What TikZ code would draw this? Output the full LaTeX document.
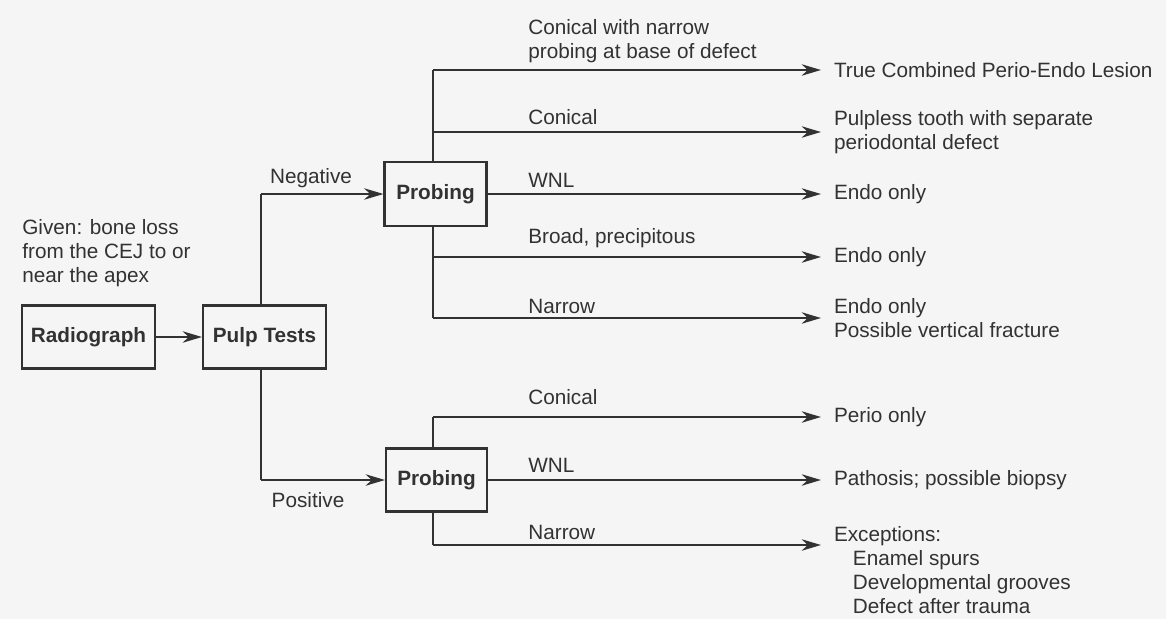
\documentclass[tikz,border=0pt]{standalone}
\usepackage{fontspec}
\setmainfont{Liberation Sans}
\usepackage{tikz}
\usetikzlibrary{arrows.meta,positioning,calc}
\definecolor{inkgray}{RGB}{50, 50, 50}
\definecolor{papergray}{RGB}{244, 245, 244}

\begin{document}
\begin{tikzpicture}[x=0.02cm,y=-0.02cm,
    font=\fontsize{11.8}{13.6}\selectfont,
    every node/.style={text=inkgray},
    box/.style={draw=inkgray,line width=1.2pt,font=\fontsize{11.8}{13.6}\selectfont\bfseries,minimum height=1.26cm,inner sep=0pt},
    lbl/.style={anchor=west,inner sep=0pt,align=left},
    res/.style={anchor=west,inner sep=0pt,outer sep=7.4pt,align=left},
    wire/.style={draw=inkgray,line width=1.2pt},
    arr/.style={wire,-{Stealth[length=11pt,width=6.5pt,inset=3.5pt]}}]
    % Page
    \fill[papergray] (0,0) rectangle (1166,619);
    \useasboundingbox (0,0) rectangle (1166,619);

    % Start: radiograph and pulp tests
    \node[lbl] (given) at (22,253) {Given: bone loss\\from the CEJ to or\\near the apex};
    \node[box,minimum width=2.66cm] (radio) at (88.5,337) {Radiograph};
    \node[box,minimum width=2.46cm] (pulp) at (264.5,337) {Pulp Tests};
    \draw[arr] (radio) -- (pulp);

    % The two probing boxes
    \node[box,minimum width=2.04cm,minimum height=1.28cm] (probeneg) at (435.5,194) {Probing};
    \node[box,minimum width=2.02cm] (probepos) at (436.5,480) {Probing};
    \coordinate (negturn) at (261,194);
    \coordinate (posturn) at (261,480);
    \draw[wire] (pulp.north -| negturn) -- (negturn);
    \draw[wire] (pulp.south -| posturn) -- (posturn);
    \draw[arr] (negturn) -- (probeneg);
    \draw[arr] (posturn) -- (probepos);
    \node (neg) at (311,178) {Negative};
    \node (pos) at (308,500) {Positive};

    % Branch points
    \coordinate (nb1) at (433,70);
    \coordinate (nb2) at (433,132);
    \coordinate (nb4) at (433,257);
    \coordinate (nb5) at (433,318);
    \coordinate (pb1) at (433,417);
    \coordinate (pb3) at (433,545);
    \draw[wire] (nb1) -- (nb1 |- probeneg.north);
    \draw[wire] (probeneg.south -| nb5) -- (nb5);
    \draw[wire] (pb1) -- (pb1 |- probepos.north);
    \draw[wire] (probepos.south -| pb3) -- (pb3);

    % Branch labels
    \node[lbl] (conicalnarrow) at (528,41) {Conical with narrow\\probing at base of defect};
    \node[lbl] (conicalneg) at (528,117) {Conical};
    \node[lbl] (wnlneg) at (528,180) {WNL};
    \node[lbl] (broad) at (528,238) {Broad, precipitous};
    \node[lbl] (narrowneg) at (528,306) {Narrow};
    \node[lbl] (conicalpos) at (528,397) {Conical};
    \node[lbl] (wnlpos) at (528,465) {WNL};
    \node[lbl] (narrowpos) at (528,532) {Narrow};

    % Outcomes
    \node[res] (combined) at (821,70) {True Combined Perio-Endo Lesion};
    \node[res] (pulpless) at (821,132) {Pulpless tooth with separate\\periodontal defect};
    \node[res] (endoa) at (821,194) {Endo only};
    \node[res] (endob) at (821,257) {Endo only};
    \node[res] (endoc) at (821,318) {Endo only\\Possible vertical fracture};
    \node[res] (perio) at (821,417) {Perio only};
    \node[res] (pathosis) at (821,480) {Pathosis; possible biopsy};
    \node[res] (exceptions) at (821,570) {Exceptions:\\\hspace*{10.8pt}Enamel spurs\\\hspace*{10.8pt}Developmental grooves\\\hspace*{10.8pt}Defect after trauma};

    % Arrows to outcomes
    \draw[arr] (nb1) -- (nb1 -| combined.west);
    \draw[arr] (nb2) -- (nb2 -| pulpless.west);
    \draw[arr] (probeneg.east) -- (probeneg.east -| endoa.west);
    \draw[arr] (nb4) -- (nb4 -| endob.west);
    \draw[arr] (nb5) -- (nb5 -| endoc.west);
    \draw[arr] (pb1) -- (pb1 -| perio.west);
    \draw[arr] (probepos.east) -- (probepos.east -| pathosis.west);
    \draw[arr] (pb3) -- (pb3 -| exceptions.west);
\end{tikzpicture}
\end{document}
